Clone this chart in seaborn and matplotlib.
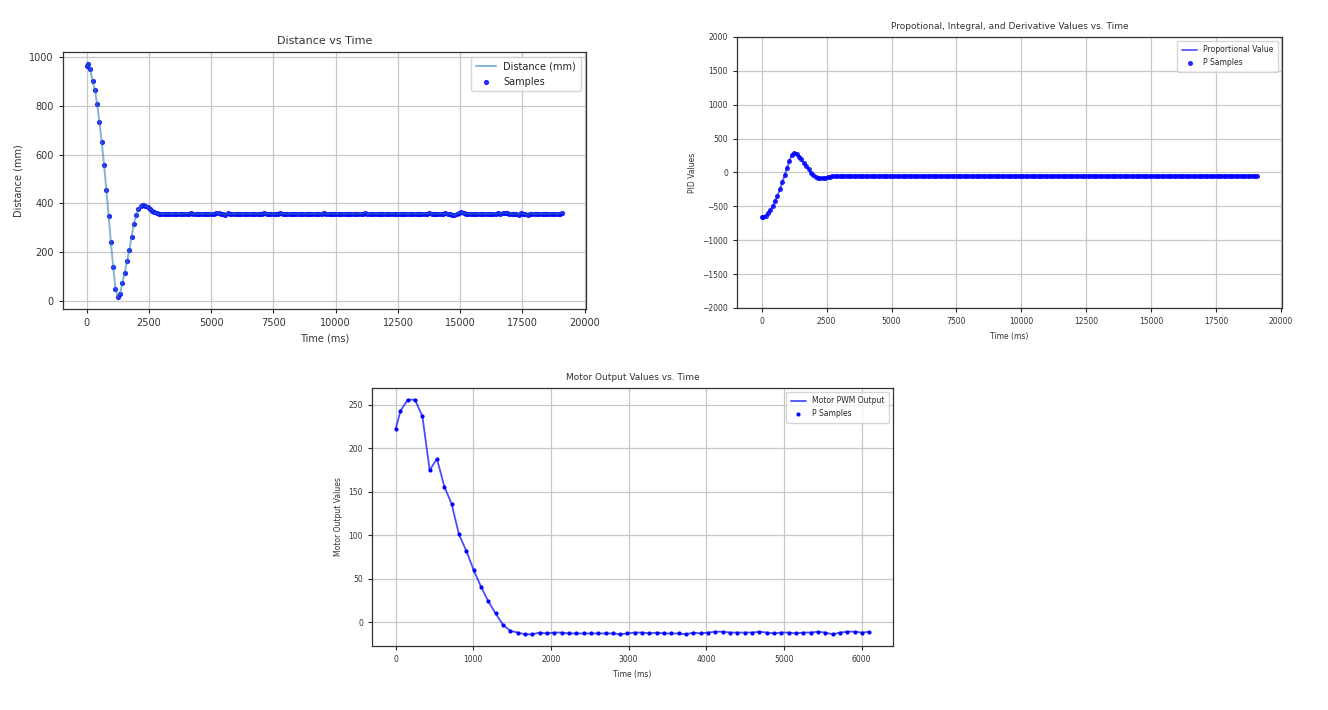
import matplotlib
matplotlib.use("Agg")
import matplotlib.pyplot as plt
import seaborn as sns

# Tiempos de muestreo del ensayo largo (ms), compartidos por distancia y PID
time_ms = [
    0, 52, 144, 236, 328, 420, 512, 604, 696, 788,
    880, 972, 1064, 1156, 1248, 1340, 1432, 1524, 1616, 1708,
    1800, 1892, 1984, 2076, 2168, 2260, 2352, 2444, 2536, 2628,
    2720, 2812, 2904, 2996, 3088, 3180, 3272, 3364, 3456, 3548,
    3640, 3732, 3824, 3916, 4008, 4100, 4192, 4284, 4376, 4468,
    4560, 4652, 4744, 4836, 4928, 5020, 5112, 5204, 5296, 5388,
    5480, 5572, 5664, 5756, 5848, 5940, 6032, 6124, 6216, 6308,
    6400, 6492, 6584, 6676, 6768, 6860, 6952, 7044, 7136, 7228,
    7320, 7412, 7504, 7596, 7688, 7780, 7872, 7964, 8056, 8148,
    8240, 8332, 8424, 8516, 8608, 8700, 8792, 8884, 8976, 9068,
    9160, 9252, 9344, 9436, 9528, 9620, 9712, 9804, 9896, 9988,
    10080, 10172, 10264, 10356, 10448, 10540, 10632, 10724, 10816, 10908,
    11000, 11092, 11184, 11276, 11368, 11460, 11552, 11644, 11736, 11828,
    11920, 12012, 12104, 12196, 12288, 12380, 12472, 12564, 12656, 12748,
    12840, 12932, 13024, 13116, 13208, 13300, 13392, 13484, 13576, 13668,
    13760, 13852, 13944, 14036, 14128, 14220, 14312, 14404, 14496, 14588,
    14680, 14772, 14864, 14956, 15048, 15140, 15232, 15324, 15416, 15508,
    15600, 15692, 15784, 15876, 15968, 16060, 16152, 16244, 16336, 16428,
    16520, 16612, 16704, 16796, 16888, 16980, 17072, 17164, 17256, 17348,
    17440, 17532, 17624, 17716, 17808, 17900, 17992, 18084, 18176, 18268,
    18360, 18452, 18544, 18636, 18728, 18820, 18912, 19004, 19096,
]

# Distancia medida (mm)
distance_mm = [
    962, 973, 950, 901, 865, 807, 734, 651, 557, 457,
    349, 240, 139, 51, 15, 30, 74, 115, 163, 207,
    263, 316, 351, 376, 389, 392, 390, 385, 378, 370,
    363, 359, 357, 357, 356, 357, 357, 356, 357, 357,
    357, 357, 356, 357, 358, 357, 359, 357, 356, 357,
    357, 357, 356, 357, 357, 357, 358, 360, 359, 357,
    356, 353, 359, 357, 357, 356, 357, 357, 357, 356,
    357, 357, 357, 356, 357, 357, 357, 357, 359, 357,
    357, 356, 357, 357, 357, 359, 357, 357, 356, 357,
    357, 357, 356, 355, 357, 357, 357, 356, 357, 357,
    357, 357, 356, 357, 359, 357, 357, 357, 356, 357,
    357, 357, 357, 356, 357, 357, 357, 357, 356, 357,
    357, 358, 361, 357, 357, 356, 357, 357, 357, 357,
    356, 357, 357, 357, 357, 356, 357, 357, 357, 357,
    357, 356, 357, 357, 357, 357, 356, 357, 358, 357,
    359, 357, 356, 357, 356, 358, 355, 359, 356, 357,
    354, 351, 358, 361, 363, 360, 357, 357, 357, 358,
    357, 357, 357, 356, 357, 357, 357, 357, 358, 357,
    359, 358, 361, 362, 360, 358, 357, 355, 358, 354,
    359, 356, 357, 351, 357, 358, 357, 356, 357, 357,
    357, 356, 357, 357, 358, 357, 356, 358, 361,
]

# Valor proporcional del PID
p_value = [
    -652, -663, -640, -591, -555, -497, -424, -341, -247, -147,
    -39, 70, 171, 259, 295, 280, 236, 195, 147, 103,
    47, -6, -41, -66, -79, -82, -80, -75, -68, -60,
    -53, -49, -47, -47, -46, -47, -47, -46, -47, -47,
    -47, -47, -46, -47, -48, -47, -49, -47, -46, -47,
    -47, -47, -46, -47, -47, -47, -48, -50, -49, -47,
    -46, -46, -49, -47, -47, -46, -47, -47, -47, -46,
    -47, -47, -47, -46, -47, -47, -47, -47, -49, -47,
    -47, -46, -47, -47, -47, -49, -47, -47, -46, -47,
    -47, -47, -46, -46, -47, -47, -47, -46, -47, -47,
    -47, -47, -46, -47, -52, -47, -47, -47, -46, -47,
    -47, -47, -47, -46, -47, -47, -47, -47, -46, -47,
    -47, -48, -53, -47, -47, -46, -47, -47, -47, -47,
    -46, -47, -47, -47, -47, -46, -47, -47, -47, -47,
    -47, -46, -47, -47, -47, -47, -46, -47, -48, -47,
    -49, -47, -46, -47, -46, -48, -46, -49, -46, -47,
    -46, -46, -48, -49, -50, -48, -47, -47, -47, -48,
    -47, -47, -47, -46, -47, -47, -47, -47, -48, -47,
    -49, -48, -51, -54, -50, -48, -47, -46, -48, -46,
    -49, -46, -47, -46, -47, -48, -47, -46, -47, -47,
    -47, -46, -47, -47, -48, -47, -46, -48, -53,
]

# Ensayo corto: salida PWM del motor
motor_time_ms = [
    0, 61, 155, 249, 344, 438, 532, 627, 721, 815,
    910, 1004, 1098, 1193, 1287, 1381, 1476, 1570, 1664, 1759,
    1853, 1947, 2042, 2136, 2230, 2325, 2419, 2513, 2608, 2702,
    2796, 2891, 2985, 3079, 3174, 3268, 3362, 3457, 3551, 3645,
    3740, 3834, 3928, 4023, 4117, 4211, 4306, 4400, 4494, 4589,
    4683, 4777, 4872, 4966, 5060, 5155, 5249, 5343, 5438, 5532,
    5626, 5721, 5815, 5909, 6004, 6098,
]
motor_pwm = [
    222, 243, 256, 256, 237, 175, 188, 156, 136, 101,
    82, 60, 41, 24, 10, -3, -10, -12, -14, -14,
    -12, -13, -12, -12, -13, -13, -13, -13, -13, -13,
    -13, -14, -13, -12, -12, -13, -12, -13, -13, -13,
    -14, -12, -13, -12, -11, -11, -12, -12, -12, -12,
    -11, -12, -13, -12, -12, -13, -12, -12, -11, -12,
    -14, -12, -11, -11, -12, -11,
]

sns.set_style("ticks")
plt.rcParams['font.family'] = ['DejaVu Sans']
plt.rcParams['axes.edgecolor'] = '#333333'

fig = plt.figure(figsize=(13.28, 7.10), dpi=100)

def estilo(ax, fs):
    ax.grid(True, color='#c8c8c8', linewidth=0.9)
    ax.tick_params(labelsize=fs, length=3, width=0.8, labelcolor='#333333')
    for s in ax.spines.values():
        s.set_visible(True)
        s.set_linewidth(0.9)

#Distancia vs tiempo
ax1 = fig.add_axes([0.0474, 0.5648, 0.3938, 0.3620])
sns.lineplot(x=time_ms, y=distance_mm, ax=ax1, color='C0', alpha=0.55, linewidth=1.4, label='Distance (mm)')
sns.scatterplot(x=time_ms, y=distance_mm, ax=ax1, color='blue', s=14, linewidth=0, alpha=0.85, label='Samples')
ax1.set_title('Distance vs Time', fontsize=8, color='#333333')
ax1.set_xlabel('Time (ms)', fontsize=7, color='#333333')
ax1.set_ylabel('Distance (mm)', fontsize=7, color='#333333')
ax1.set_xticks(range(0, 20001, 2500))
ax1.set_yticks(range(0, 1001, 200))
estilo(ax1, 7)
ax1.legend(loc='upper right', fontsize=7, frameon=True, borderpad=0.5)

#Valores PID vs tiempo
ax2 = fig.add_axes([0.5550, 0.5662, 0.4104, 0.3817])
sns.lineplot(x=time_ms, y=p_value, ax=ax2, color='blue', alpha=0.6, linewidth=1.4, label='Proportional Value')
sns.scatterplot(x=time_ms, y=p_value, ax=ax2, color='blue', s=13, linewidth=0, alpha=0.85, label='P Samples')
ax2.set_title('Propotional, Integral, and Derivative Values vs. Time', fontsize=6.5, color='#333333')
ax2.set_xlabel('Time (ms)', fontsize=5.5, color='#333333')
ax2.set_ylabel('PID Values', fontsize=5.5, color='#333333')
ax2.set_ylim(-2000, 2000)
ax2.set_xticks(range(0, 20001, 2500))
ax2.set_yticks(range(-2000, 2001, 500))
estilo(ax2, 5.5)
ax2.legend(loc='upper right', fontsize=5.5, frameon=True, borderpad=0.6)

#Salida del motor vs tiempo
ax3 = fig.add_axes([0.2801, 0.0901, 0.3923, 0.3634])
sns.lineplot(x=motor_time_ms, y=motor_pwm, ax=ax3, color='blue', alpha=0.7, linewidth=1.3, label='Motor PWM Output')
sns.scatterplot(x=motor_time_ms, y=motor_pwm, ax=ax3, color='blue', s=9, linewidth=0, label='P Samples')
ax3.set_title('Motor Output Values vs. Time', fontsize=6.5, color='#333333')
ax3.set_xlabel('Time (ms)', fontsize=5.5, color='#333333')
ax3.set_ylabel('Motor Output Values', fontsize=5.5, color='#333333')
ax3.set_xticks(range(0, 6001, 1000))
ax3.set_yticks(range(0, 251, 50))
estilo(ax3, 5.5)
ax3.legend(loc='upper right', fontsize=5.5, frameon=True, borderpad=0.6)

fig.savefig('out.png', dpi=100)
